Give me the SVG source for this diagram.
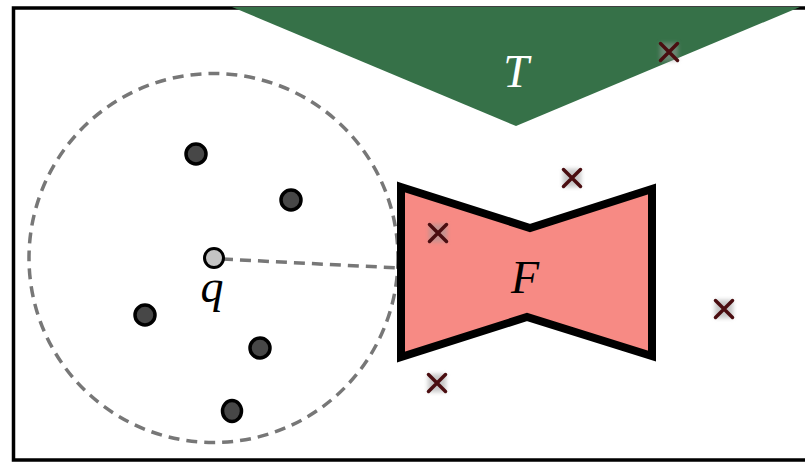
<svg xmlns="http://www.w3.org/2000/svg" width="805" height="463" viewBox="0 0 805 463">
<defs>
<filter id="blur" x="-50%" y="-50%" width="200%" height="200%"><feGaussianBlur stdDeviation="2"/></filter>
<g id="cross">
<rect x="-9" y="-9" width="18" height="18" fill="#999" opacity="0.55" filter="url(#blur)"/>
<path d="M-8.5,-8.5 L8.5,8.5 M8.5,-8.5 L-8.5,8.5" stroke="#4a0d10" stroke-width="3.5" stroke-linecap="round"/>
</g>
</defs>
<style>
.pt{fill:#474747;stroke:#000;stroke-width:3.5}
.qpt{fill:#c4c4c4;stroke:#000;stroke-width:3}
.lbl{font-family:"Liberation Serif",serif;font-style:italic;font-size:46px;text-anchor:middle}
.dash{fill:none;stroke:#777;stroke-width:3.5;stroke-dasharray:11,7}
</style>
<rect x="0" y="0" width="805" height="463" fill="#fff"/>
<rect id="frame" x="13.5" y="8" width="800" height="452" fill="none" stroke="#000" stroke-width="3.5"/>
<g id="T">
<polygon points="232,7 800,7 516,126" fill="#367148"/>
<text class="lbl" x="516" y="87" fill="#fff">T</text>
</g>
<g id="ball">
<circle cx="213.5" cy="258" r="184.5" class="dash"/>
</g>
<g id="F">
<polygon points="401,187 530,228 652,189 652,356 527,317 401,357" fill="#f78a84" stroke="#000" stroke-width="8" stroke-linejoin="miter"/>
<text class="lbl" x="525" y="293" fill="#000">F</text>
</g>
<g id="connectors">
<line x1="222" y1="259" x2="399" y2="268" class="dash"/>
</g>
<g id="points">
<circle class="pt" cx="196" cy="154" r="10"/>
<circle class="pt" cx="291" cy="200" r="10"/>
<circle class="pt" cx="145" cy="315" r="10"/>
<circle class="pt" cx="260" cy="348" r="10"/>
<ellipse class="pt" cx="232" cy="411" rx="9.5" ry="10.5"/>
</g>
<g id="q">
<circle class="qpt" cx="214" cy="258" r="9.5"/>
<text class="lbl" x="212" y="302" fill="#000">q</text>
</g>
<g id="crosses">
<use href="#cross" x="438" y="233"/>
<use href="#cross" x="572" y="178"/>
<use href="#cross" x="437" y="383"/>
<use href="#cross" x="724" y="309"/>
<use href="#cross" x="669" y="52"/>
</g>
</svg>
